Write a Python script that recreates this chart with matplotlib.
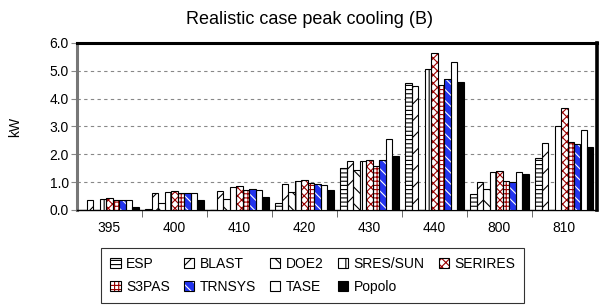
import numpy as np
import matplotlib
matplotlib.use('Agg')
import matplotlib.pyplot as plt
from matplotlib.patches import Patch
from matplotlib.legend_handler import HandlerTuple

plt.rcParams['font.family'] = ['Liberation Sans', 'DejaVu Sans']
plt.rcParams['hatch.linewidth'] = 0.8

cases = ['395', '400', '410', '420', '430', '440', '800', '810']
programs = ['ESP', 'BLAST', 'DOE2', 'SRES/SUN', 'SERIRES',
            'S3PAS', 'TRNSYS', 'TASE', 'Popolo']

# peak cooling, kW (one list per program, in case order)
esp     = [0.00, 0.05, 0.00, 0.26, 1.50, 4.57, 0.58, 1.86]
blast   = [0.36, 0.60, 0.69, 0.93, 1.76, 4.45, 0.99, 2.39]
doe2    = [0.00, 0.25, 0.40, 0.63, 1.43, 0.00, 0.75, 0.00]
sres    = [0.38, 0.65, 0.81, 1.03, 1.76, 5.08, 1.37, 3.01]
serires = [0.43, 0.70, 0.86, 1.08, 1.78, 5.63, 1.40, 3.65]
s3pas   = [0.36, 0.62, 0.72, 0.96, 1.57, 4.49, 1.04, 2.46]
trnsys  = [0.37, 0.62, 0.74, 0.93, 1.78, 4.71, 1.00, 2.36]
tase    = [0.36, 0.60, 0.72, 0.91, 2.56, 5.31, 1.37, 2.89]
popolo  = [0.12, 0.35, 0.48, 0.72, 1.93, 4.60, 1.30, 2.26]
series = [esp, blast, doe2, sres, serires, s3pas, trnsys, tase, popolo]

# (face, hatch, hatch colour)
styles = [
    ('white', '----', 'black'),
    ('white', '//', 'black'),
    ('white', '\\\\', 'black'),
    ('white', '||', 'black'),
    ('white', 'xxxx', '#990000'),
    ('white', '++++', '#990000'),
    ('#2233ee', '\\\\\\', 'white'),
    ('white', '', 'black'),
    ('black', '', 'black'),
]

fig = plt.figure(figsize=(6.06, 3.07), dpi=100)
ax = fig.add_axes([0.127, 0.316, 0.858, 0.544])

x = np.arange(len(cases))
w = 0.1
handles = []
for i, (vals, (fc, hatch, hc)) in enumerate(zip(series, styles)):
    pos = x + (i - 4) * w
    ax.bar(pos, vals, w * 0.95, color=fc, edgecolor=hc, hatch=hatch,
           linewidth=0, zorder=3)
    ax.bar(pos, vals, w * 0.95, fill=False, edgecolor='black',
           linewidth=0.8, zorder=4)
    h1 = Patch(facecolor=fc, edgecolor=hc, hatch=hatch, linewidth=0)
    h2 = Patch(fill=False, edgecolor='black', linewidth=0.8)
    handles.append((h1, h2))

ax.set_xlim(-0.5, len(cases) - 0.5)
ax.set_ylim(0, 6)
ax.set_yticks(np.arange(0, 6.1, 1.0))
ax.set_yticklabels(['%.1f' % v for v in np.arange(0, 6.1, 1.0)], fontsize=10)
ax.set_xticks(x)
ax.set_xticklabels(cases, fontsize=10)
ax.tick_params(axis='x', which='major', length=0, pad=8)
ax.set_xticks(np.arange(0.5, len(cases) - 0.5, 1.0), minor=True)
ax.tick_params(axis='x', which='minor', length=5, color='#555555')
ax.tick_params(axis='y', length=4, color='#888888', pad=2)
ax.yaxis.grid(True, linestyle=(0, (3, 3)), color='#888888', linewidth=0.8, zorder=0)
ax.set_ylabel('kW', fontsize=10)
ax.yaxis.set_label_coords(-0.105, 0.5)

ax.spines['left'].set_color('#777777')
ax.spines['left'].set_linewidth(2.2)
ax.spines['top'].set_linewidth(2.2)
ax.spines['right'].set_linewidth(2.6)
ax.spines['bottom'].set_linewidth(1.0)

fig.text(0.51, 0.938, 'Realistic case peak cooling (B)', ha='center',
         va='center', fontsize=13)

order = [0, 5, 1, 6, 2, 7, 3, 8, 4]
leg = fig.legend([handles[k] for k in order], [programs[k] for k in order],
                 handler_map={tuple: HandlerTuple(ndivide=1)},
                 ncol=5, loc='upper left', bbox_to_anchor=(0.167, 0.192),
                 bbox_transform=fig.transFigure, fontsize=10,
                 frameon=True, fancybox=False, edgecolor='black',
                 handlelength=0.75, handleheight=0.75, handletextpad=0.4,
                 columnspacing=1.0, labelspacing=0.62, borderpad=0.65,
                 borderaxespad=0)
leg.get_frame().set_linewidth(0.8)

fig.savefig('out.png', dpi=100)
